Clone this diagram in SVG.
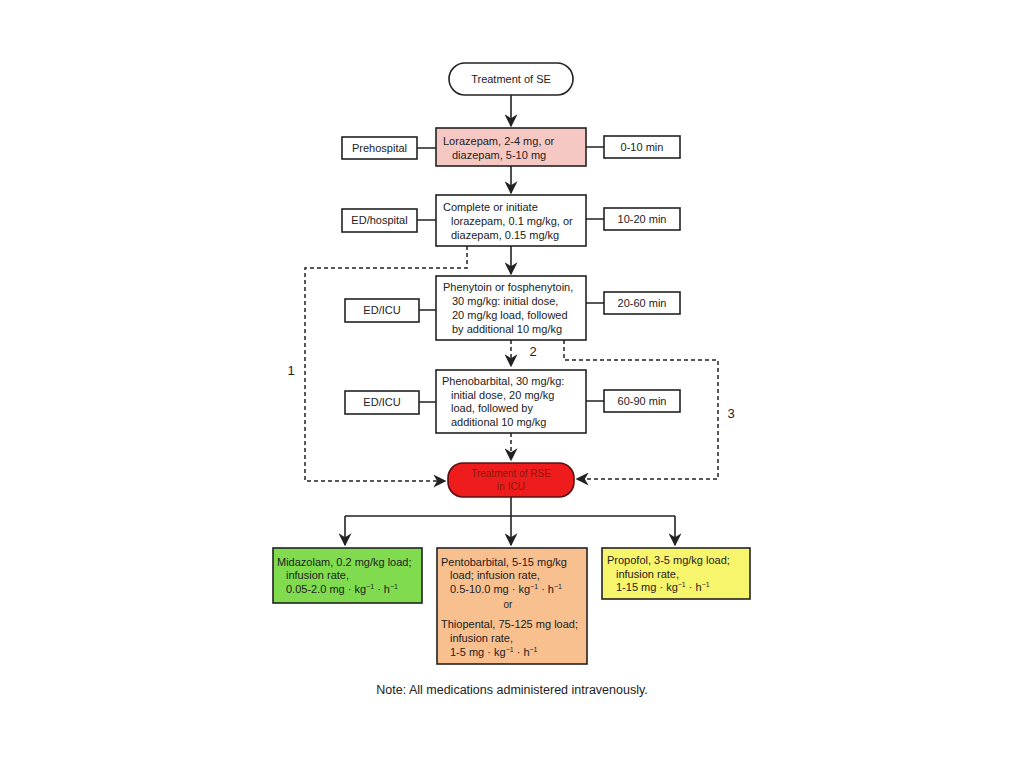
<svg xmlns="http://www.w3.org/2000/svg" width="1024" height="768" viewBox="0 0 1024 768">
<style>
text{font-family:"Liberation Sans",Arial,sans-serif;font-size:11px;fill:#222}
.b{stroke:#222;stroke-width:1.6;fill:#fff}
.c{stroke:#222;stroke-width:1.6;fill:none}
.d{stroke:#222;stroke-width:1.5;fill:none;stroke-dasharray:4 3}
.sup{font-size:7px}
.m{text-anchor:middle}
</style>
<defs>
<marker id="ah2" viewBox="0 0 10 10" refX="9" refY="5" markerWidth="13" markerHeight="13" markerUnits="userSpaceOnUse" orient="auto">
<path d="M0,0 L10,5 L0,10 L3,5 Z" fill="#222"/>
</marker>
</defs>
<rect width="1024" height="768" fill="#fff"/>

<g id="connectors">
<path class="c" d="M511,95 V126" marker-end="url(#ah2)"/>
<path class="c" d="M511,166 V193" marker-end="url(#ah2)"/>
<path class="c" d="M511,246 V274" marker-end="url(#ah2)"/>
<path class="d" d="M511,340 V366" marker-end="url(#ah2)"/>
<path class="d" d="M511,433 V460" marker-end="url(#ah2)"/>
<path class="d" d="M467,246 V268 H305 V481 H445" marker-end="url(#ah2)"/>
<path class="d" d="M564,340 V360 H718 V479 H577" marker-end="url(#ah2)"/>
<path class="c" d="M417,148 H436 M586,147 H604"/>
<path class="c" d="M417,220 H436 M586,219 H604"/>
<path class="c" d="M419,310 H436 M586,303 H604"/>
<path class="c" d="M419,402 H436 M586,401 H604"/>
<path class="c" d="M511,497 V545" marker-end="url(#ah2)"/>
<path class="c" d="M345,516 H675"/>
<path class="c" d="M345,516 V545" marker-end="url(#ah2)"/>
<path class="c" d="M675,516 V545" marker-end="url(#ah2)"/>
<text x="291" y="375" class="m" style="font-size:13px">1</text>
<text x="533" y="356" class="m" style="font-size:13px">2</text>
<text x="731" y="418" class="m" style="font-size:13px">3</text>
</g>

<g id="start">
<rect x="449" y="63" width="124" height="32" rx="16" class="b"/>
<text x="511" y="83" class="m">Treatment of SE</text>
</g>

<g id="n1">
<rect x="436" y="128" width="150" height="38" class="b" style="fill:#f6c8c4"/>
<text x="443" y="145">Lorazepam, 2-4 mg, or</text>
<text x="452" y="159">diazepam, 5-10 mg</text>
</g>
<g id="l1"><rect x="342" y="137" width="75" height="22" class="b"/><text x="379.5" y="152" class="m">Prehospital</text></g>
<g id="t1"><rect x="604" y="136" width="76" height="22" class="b"/><text x="642" y="151" class="m">0-10 min</text></g>

<g id="n2">
<rect x="436" y="195" width="150" height="51" class="b"/>
<text x="443" y="211">Complete or initiate</text>
<text x="451" y="225">lorazepam, 0.1 mg/kg, or</text>
<text x="451" y="239">diazepam, 0.15 mg/kg</text>
</g>
<g id="l2"><rect x="342" y="209" width="75" height="23" class="b"/><text x="379.5" y="224" class="m">ED/hospital</text></g>
<g id="t2"><rect x="604" y="208" width="76" height="22" class="b"/><text x="642" y="223" class="m">10-20 min</text></g>

<g id="n3">
<rect x="436" y="276" width="150" height="64" class="b"/>
<text x="443" y="291">Phenytoin or fosphenytoin,</text>
<text x="452" y="305">30 mg/kg: initial dose,</text>
<text x="452" y="319">20 mg/kg load, followed</text>
<text x="452" y="333">by additional 10 mg/kg</text>
</g>
<g id="l3"><rect x="345" y="299" width="74" height="23" class="b"/><text x="382" y="314" class="m">ED/ICU</text></g>
<g id="t3"><rect x="604" y="292" width="76" height="22" class="b"/><text x="642" y="307" class="m">20-60 min</text></g>

<g id="n4">
<rect x="436" y="370" width="150" height="63" class="b"/>
<text x="442" y="385">Phenobarbital, 30 mg/kg:</text>
<text x="451" y="399">initial dose, 20 mg/kg</text>
<text x="451" y="412">load, followed by</text>
<text x="451" y="426">additional 10 mg/kg</text>
</g>
<g id="l4"><rect x="345" y="391" width="74" height="23" class="b"/><text x="382" y="406" class="m">ED/ICU</text></g>
<g id="t4"><rect x="604" y="390" width="76" height="22" class="b"/><text x="642" y="405" class="m">60-90 min</text></g>

<g id="icu">
<rect x="448" y="463" width="126" height="34" rx="15" style="fill:#ee1c1c;stroke:#5a1010;stroke-width:1.6"/>
<text x="511" y="477" class="m" style="fill:#8a1a10;font-size:10px">Treatment of RSE</text>
<text x="511" y="490" class="m" style="fill:#8a1a10;font-size:10px">in ICU</text>
</g>

<g id="midazolam">
<rect x="273" y="548" width="149" height="55" class="b" style="fill:#80dc4e"/>
<text x="277" y="566">Midazolam, 0.2 mg/kg load;</text>
<text x="286" y="579">infusion rate,</text>
<text x="286" y="593">0.05-2.0 mg · kg<tspan class="sup" dy="-4">−1</tspan><tspan dy="4"> · h</tspan><tspan class="sup" dy="-4">−1</tspan></text>
</g>

<g id="pentobarbital">
<rect x="437" y="548" width="150" height="116" class="b" style="fill:#f8bf8f"/>
<text x="441" y="566">Pentobarbital, 5-15 mg/kg</text>
<text x="450" y="579">load; infusion rate,</text>
<text x="450" y="593">0.5-10.0 mg · kg<tspan class="sup" dy="-4">−1</tspan><tspan dy="4"> · h</tspan><tspan class="sup" dy="-4">−1</tspan></text>
<text x="508" y="608" class="m" style="font-size:10px">or</text>
<text x="441" y="628">Thiopental, 75-125 mg load;</text>
<text x="450" y="642">infusion rate,</text>
<text x="450" y="656">1-5 mg · kg<tspan class="sup" dy="-4">−1</tspan><tspan dy="4"> · h</tspan><tspan class="sup" dy="-4">−1</tspan></text>
</g>

<g id="propofol">
<rect x="602" y="548" width="148" height="51" class="b" style="fill:#f7f56c"/>
<text x="607" y="564">Propofol, 3-5 mg/kg load;</text>
<text x="616" y="578">infusion rate,</text>
<text x="616" y="591">1-15 mg · kg<tspan class="sup" dy="-4">−1</tspan><tspan dy="4"> · h</tspan><tspan class="sup" dy="-4">−1</tspan></text>
</g>

<g id="note">
<text x="512" y="694" class="m" style="font-size:12.5px">Note: All medications administered intravenously.</text>
</g>
</svg>
